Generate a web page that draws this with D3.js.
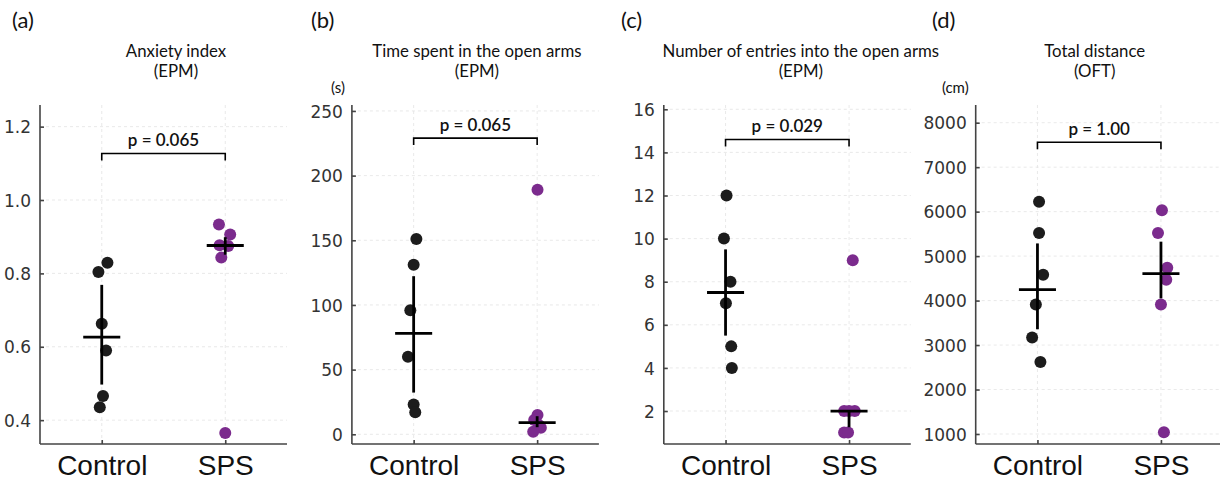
<!DOCTYPE html>
<meta charset="utf-8">
<head>
<style>
  body { margin: 0; background: #fff; }
  .grid line { stroke: #e3e3e3; stroke-width: 0.8px; stroke-dasharray: 3,3; }
  .axis path, .axis line { stroke: #444; stroke-width: 1.6px; fill: none; }
  .ticklabel { font: 17px "DejaVu Sans", sans-serif; fill: #333; }
  .grouplabel { font: 28px "Liberation Sans", Arial, sans-serif; fill: #111; }
  .title { font: 16.8px Lato, "Open Sans", sans-serif; fill: #111; }
  .letter { font: 22px Lato, "Open Sans", sans-serif; fill: #111; }
  .unit { font: 15px Lato, "Open Sans", sans-serif; fill: #111; }
  .plabel { font: 600 17px Lato, "Open Sans", sans-serif; fill: #111; }
</style>
</head>
<body>
<div id="content"></div>
<script src="https://d3js.org/d3.v7.min.js"></script>
<script type="text/javascript">

// ---- data ----
var groups = ["Control", "SPS"];
var panelLetters = ["(a)", "(b)", "(c)", "(d)"];
var titles = [
  ["Anxiety index", "(EPM)"],
  ["Time spent in the open arms", "(EPM)"],
  ["Number of entries into the open arms", "(EPM)"],
  ["Total distance", "(OFT)"]
];
var units = ["", "(s)", "", "(cm)"];
var pLabels = ["p = 0.065", "p = 0.065", "p = 0.029", "p = 1.00"];
var bracketLevels = [1.127, 229, 14.6, 7560];

var yDomains = [[0.335, 1.259], [-7.5, 254.6], [0.47, 16.2], [775, 8398]];
var yTicks = [
  [0.4, 0.6, 0.8, 1.0, 1.2],
  [0, 50, 100, 150, 200, 250],
  [2, 4, 6, 8, 10, 12, 14, 16],
  [1000, 2000, 3000, 4000, 5000, 6000, 7000, 8000]
];
var tickFormats = [".1f", "d", "d", "d"];

var anxietyControl = [0.804, 0.829, 0.663, 0.590, 0.466, 0.435];
var anxietySPS     = [0.933, 0.906, 0.877, 0.875, 0.843, 0.365];
var timeControl    = [151, 131, 96, 60, 23, 17];
var timeSPS        = [189, 15, 11, 7, 5, 2];
var entriesControl = [12, 10, 8, 7, 5, 4];
var entriesSPS     = [9, 2, 2, 2, 1, 1];
var distControl    = [6220, 5520, 4580, 3910, 3170, 2620];
var distSPS        = [6030, 5520, 4740, 4470, 3910, 1040];

// horizontal jitter of each dot, in category units
var jitAnxC = [-0.027, 0.046, 0.0, 0.035, 0.01, -0.016];
var jitAnxS = [-0.051, 0.04, -0.046, 0.024, -0.032, 0.0];
var jitTimeC = [0.022, 0.0, -0.027, -0.046, 0.0, 0.013];
var jitTimeS = [0.003, 0.003, -0.024, 0.016, 0.03, -0.032];
var jitEntC = [0.008, -0.013, 0.04, 0.003, 0.046, 0.051];
var jitEntS = [0.03, -0.04, 0.046, 0.0, -0.04, -0.008];
var jitDistC = [0.013, 0.013, 0.046, -0.013, -0.043, 0.024];
var jitDistS = [0.008, -0.024, 0.051, 0.043, 0.0, 0.024];

var series = [
  [anxietyControl, anxietySPS],
  [timeControl, timeSPS],
  [entriesControl, entriesSPS],
  [distControl, distSPS]
];
var jitters = [
  [jitAnxC, jitAnxS],
  [jitTimeC, jitTimeS],
  [jitEntC, jitEntS],
  [jitDistC, jitDistS]
];
var colors = ["#1c1c1c", "#7b2b8d"];

// ---- layout ----
var W = 1220, H = 484;
var plotTop = 105, plotBottom = 444, plotW = 247, step = 311.9, left0 = 40;
var titleX = [136, 125, 137, 119];   // title centre relative to panel left
var letterX = [12, 311, 621, 932];

var svg = d3.select("#content").append("svg")
  .attr("width", W).attr("height", H);

svg.append("rect").attr("width", W).attr("height", H).attr("fill", "#fff");

series.forEach(function(ser, i) {
  var left = left0 + i * step;
  var g = svg.append("g").attr("transform", "translate(" + left + ",0)");

  var x = d3.scaleLinear().domain([-0.5, 1.5]).range([0, plotW]);
  var y = d3.scaleLinear().domain(yDomains[i]).range([plotBottom, plotTop]);

  // grid
  var grid = g.append("g").attr("class", "grid");
  grid.selectAll("line.h").data(yTicks[i]).enter().append("line")
    .attr("x1", 0).attr("x2", plotW)
    .attr("y1", function(d) { return y(d); })
    .attr("y2", function(d) { return y(d); });
  grid.selectAll("line.v").data([0, 1]).enter().append("line")
    .attr("y1", plotTop).attr("y2", plotBottom)
    .attr("x1", function(d) { return x(d); })
    .attr("x2", function(d) { return x(d); });

  // axes
  var yAxis = d3.axisLeft(y).tickValues(yTicks[i])
    .tickFormat(d3.format(tickFormats[i])).tickSizeInner(-4).tickSizeOuter(0).tickPadding(9);
  var ya = g.append("g").attr("class", "axis").call(yAxis);
  ya.select(".domain").attr("d", "M0," + plotTop + "V" + plotBottom);
  ya.selectAll("text").attr("class", "ticklabel").attr("dy", "0.36em");

  var xAxis = d3.axisBottom(x).tickValues([0, 1])
    .tickFormat(function(d) { return groups[d]; }).tickSizeInner(-4).tickSizeOuter(0).tickPadding(10);
  var xa = g.append("g").attr("class", "axis")
    .attr("transform", "translate(0," + plotBottom + ")").call(xAxis);
  xa.select(".domain").attr("d", "M0,0H" + plotW);
  xa.selectAll("text").attr("class", "grouplabel").attr("dy", "0.76em");

  // dots
  ser.forEach(function(vals, gi) {
    g.selectAll("circle.g" + gi).data(vals).enter().append("circle")
      .attr("class", "g" + gi)
      .attr("cx", function(d, k) { return x(gi + jitters[i][gi][k]); })
      .attr("cy", function(d) { return y(d); })
      .attr("r", 6)
      .attr("fill", colors[gi]);
  });

  // median and interquartile range
  ser.forEach(function(vals, gi) {
    var s = vals.slice().sort(d3.ascending);
    var med = d3.quantile(s, 0.5), q1 = d3.quantile(s, 0.25), q3 = d3.quantile(s, 0.75);
    g.append("line").attr("x1", x(gi)).attr("x2", x(gi))
      .attr("y1", y(q1)).attr("y2", y(q3))
      .attr("stroke", "#000").attr("stroke-width", 2.8);
    g.append("line").attr("x1", x(gi - 0.15)).attr("x2", x(gi + 0.15))
      .attr("y1", y(med)).attr("y2", y(med))
      .attr("stroke", "#000").attr("stroke-width", 2.8);
  });

  // significance bracket
  var by = y(bracketLevels[i]);
  g.append("path")
    .attr("d", "M" + x(0) + "," + (by + 7) + "V" + by + "H" + x(1) + "V" + (by + 7))
    .attr("fill", "none").attr("stroke", "#000").attr("stroke-width", 1.6);
  g.append("text").attr("class", "plabel")
    .attr("x", x(0.5)).attr("y", by - 7)
    .attr("text-anchor", "middle").text(pLabels[i]);

  // titles
  g.append("text").attr("class", "title").attr("x", titleX[i]).attr("y", 57)
    .attr("text-anchor", "middle").text(titles[i][0]);
  g.append("text").attr("class", "title").attr("x", titleX[i]).attr("y", 77)
    .attr("text-anchor", "middle").text(titles[i][1]);

  if (units[i]) {
    g.append("text").attr("class", "unit").attr("x", -7).attr("y", 93)
      .attr("text-anchor", "end").text(units[i]);
  }

  svg.append("text").attr("class", "letter").attr("x", letterX[i]).attr("y", 28)
    .text(panelLetters[i]);
});

</script>
</body>
</html>
